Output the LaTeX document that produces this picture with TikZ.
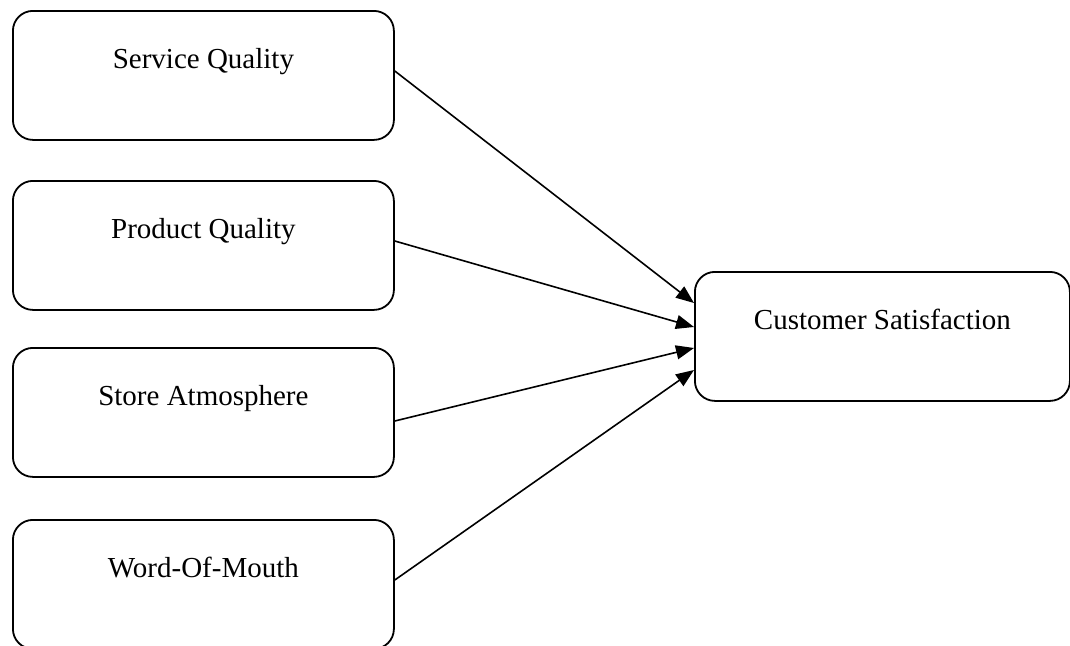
\documentclass[tikz,border=0pt]{standalone}
\usepackage{fontspec}
\setmainfont{Liberation Serif}
\usetikzlibrary{arrows.meta,calc}
\begin{document}
\begin{tikzpicture}[x=1pt,y=-1pt,
  box/.style={draw,line width=1.8pt,rounded corners=20pt,minimum width=381pt,minimum height=129pt,anchor=north west,inner sep=0pt},
  lbl/.style={font=\fontsize{29}{33}\selectfont,anchor=base,inner sep=0pt},
  arr/.style={line width=1.6pt,-{Triangle[length=18pt,width=14pt]}}]
\useasboundingbox (0,0) rectangle (1070,645);
\node[box] (b1) at (12,10) {};
\node[box] (b2) at (12,180) {};
\node[box] (b3) at (12,347) {};
\node[box] (b4) at (12,519) {};
\node[box,minimum width=375pt] (cs) at (694,271) {};
\node[lbl] (t1) at ($(b1.north)+(0,58)$) {Service Quality};
\node[lbl] (t2) at ($(b2.north)+(0,58)$) {Product Quality};
\node[lbl] (t3) at ($(b3.north)+(0,58)$) {Store Atmosphere};
\node[lbl] (t4) at ($(b4.north)+(0,58)$) {Word-Of-Mouth};
\node[lbl] (t5) at ($(cs.north)+(0,58)$) {Customer Satisfaction};
\coordinate (e1) at ($(cs.north west)+(0,32)$);
\coordinate (e2) at ($(cs.north west)+(0,56)$);
\coordinate (e3) at ($(cs.north west)+(0,77)$);
\coordinate (e4) at ($(cs.north west)+(0,99)$);
\draw[arr] ($(b1.north east)+(0,61)$) -- (e1);
\draw[arr] ($(b2.north east)+(0,61)$) -- (e2);
\draw[arr] ($(b3.north east)+(0,74)$) -- (e3);
\draw[arr] ($(b4.north east)+(0,61)$) -- (e4);
\end{tikzpicture}
\end{document}
